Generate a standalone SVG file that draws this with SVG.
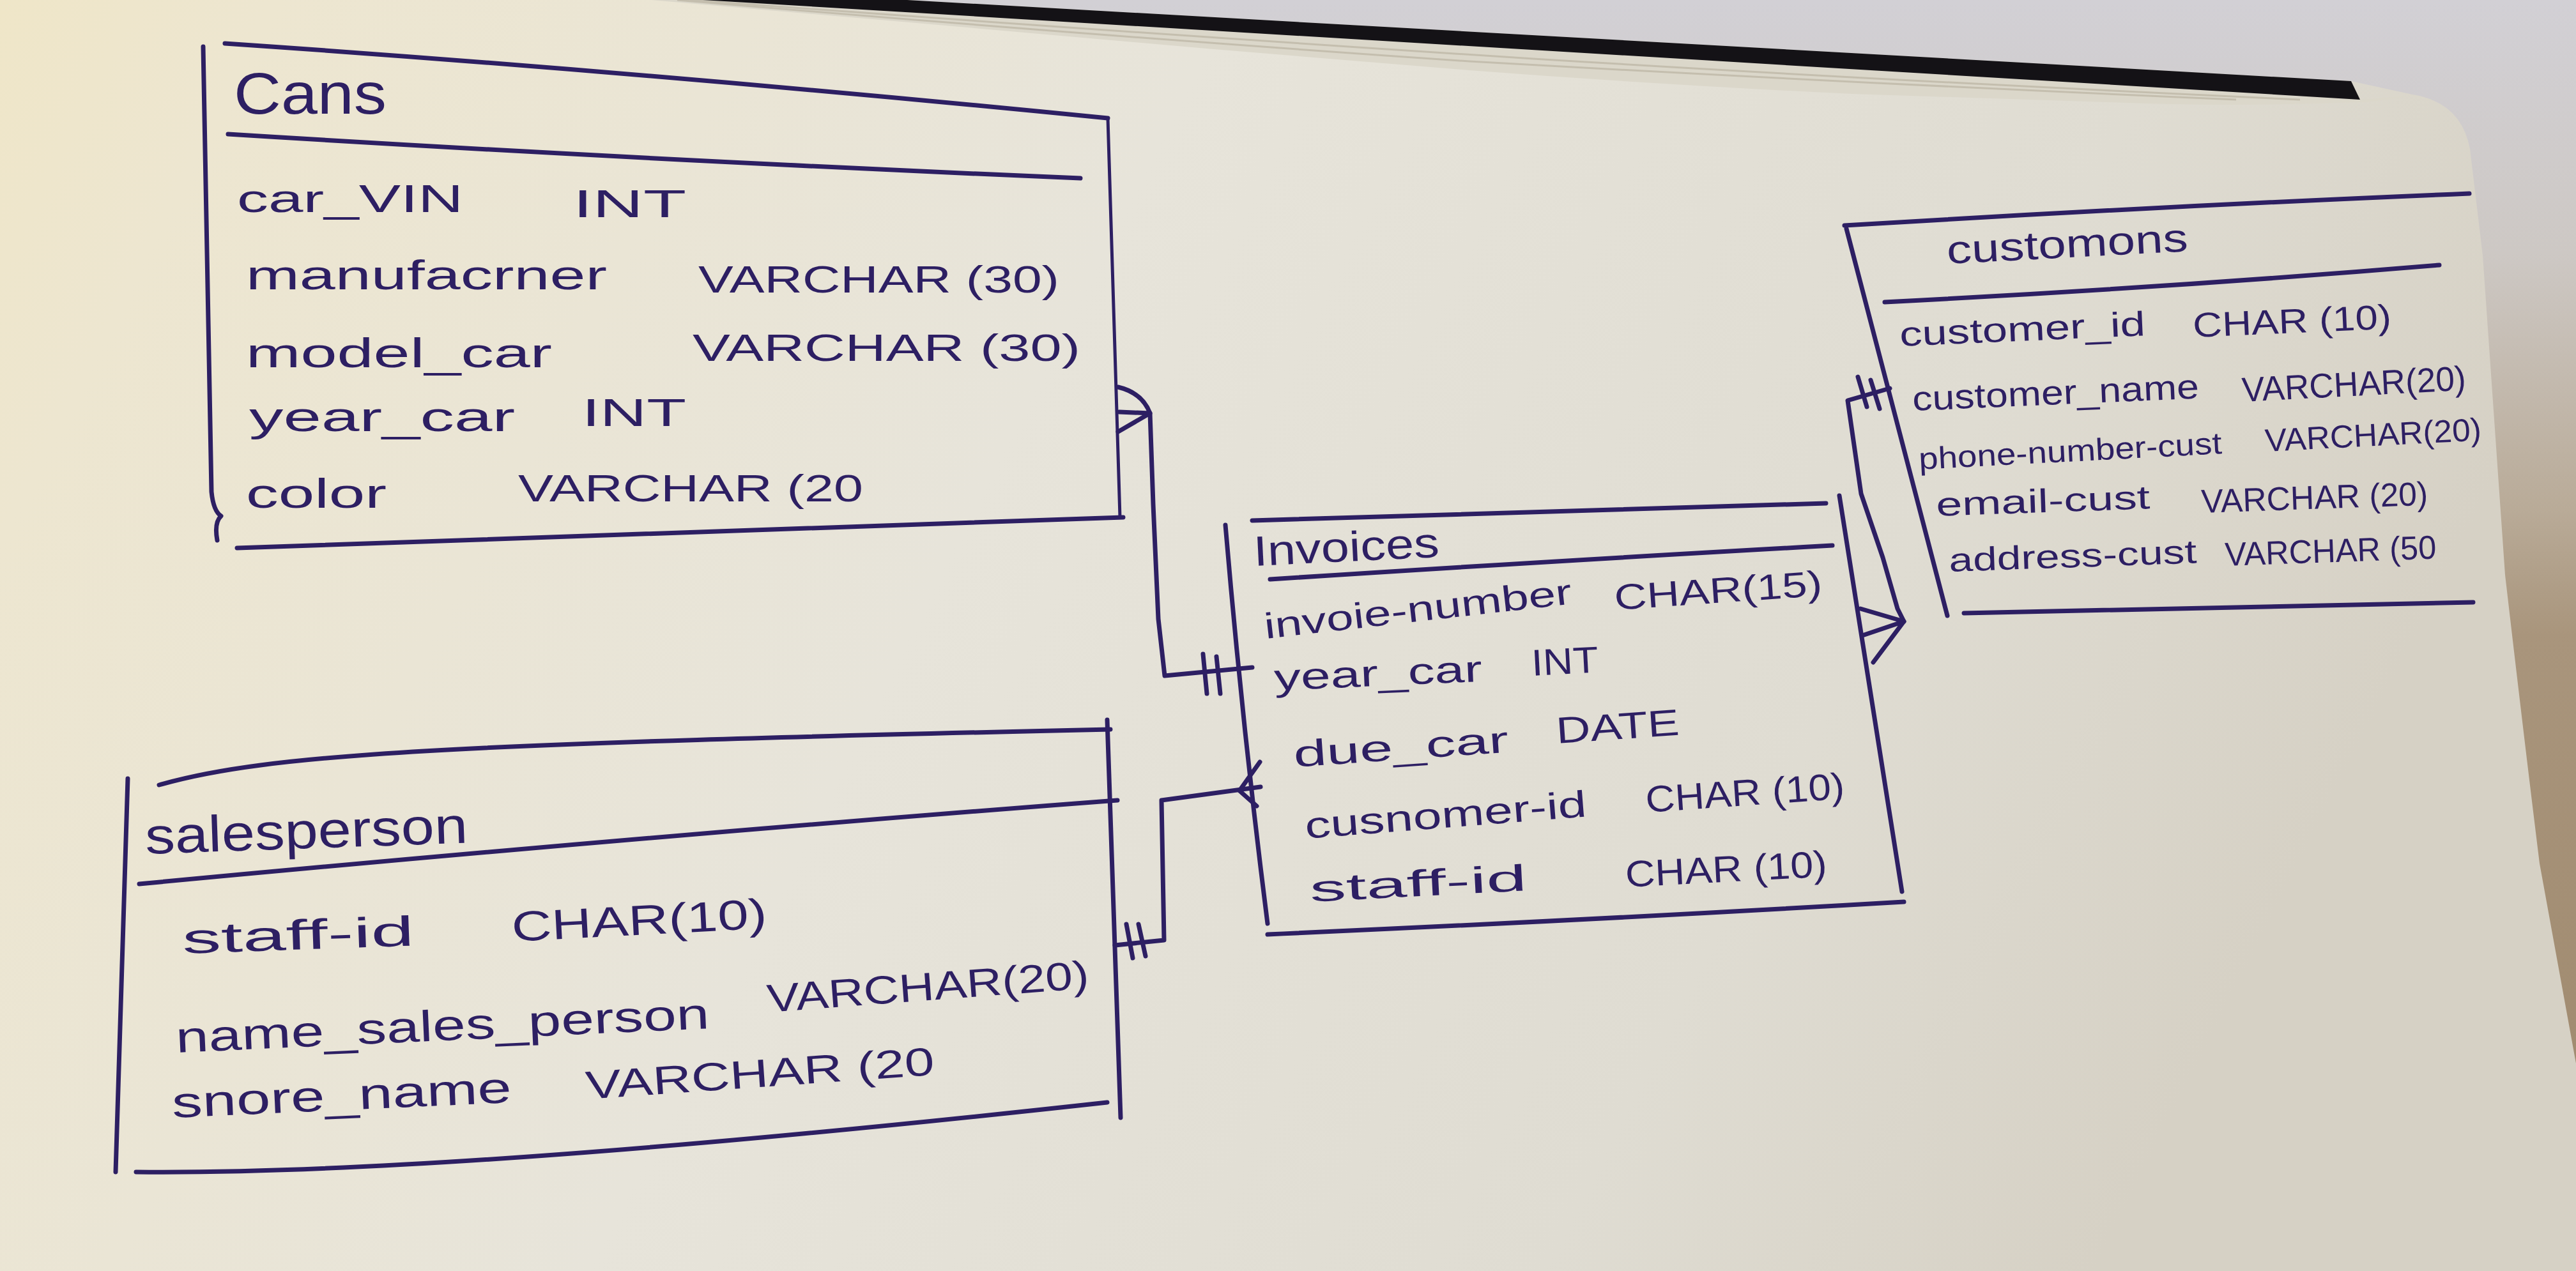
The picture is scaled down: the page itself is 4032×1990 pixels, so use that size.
<svg xmlns="http://www.w3.org/2000/svg" width="4032" height="1990" viewBox="0 0 4032 1990">
<defs>
<linearGradient id="bg" x1="0" y1="0" x2="0" y2="1">
<stop offset="0" stop-color="#d2d0d5"/>
<stop offset="0.2" stop-color="#cdc8c4"/>
<stop offset="0.4" stop-color="#b9ab98"/>
<stop offset="0.5" stop-color="#a9957c"/>
<stop offset="1" stop-color="#9d876b"/>
</linearGradient>
<linearGradient id="paper" x1="0" y1="0" x2="1" y2="0.25">
<stop offset="0" stop-color="#efe6c8"/>
<stop offset="0.1" stop-color="#ede6d0"/>
<stop offset="0.45" stop-color="#e7e4da"/>
<stop offset="0.8" stop-color="#dfdcd2"/>
<stop offset="1" stop-color="#d6d1c5"/>
</linearGradient>
<style>
.ink{fill:none;stroke:#2d1f63;stroke-width:7;stroke-linecap:round;stroke-linejoin:round}
.thin{stroke-width:5}
.stripe{fill:none;stroke:#c4beae;stroke-width:3}
text{font-family:"Liberation Sans",Arial,sans-serif;fill:#2d1f63}
</style>
</defs>
<rect width="4032" height="1990" fill="url(#bg)"/>
<path d="M0,0 L1420,0 L3680,127 L3776,148 Q3852,160 3866,233 L3886,400 L3921,900 Q3950,1150 3975,1352 L4032,1665 L4032,1990 L0,1990 Z" fill="url(#paper)"/>
<path d="M1020,0 L1100,0 L3694,156 L3776,150 Q3700,162 3686,160 Q3500,168 3300,160 L2900,147 Q2600,133 2300,110 L1900,77 L1400,33 Z" fill="#dbd7ca"/>
<path class="stripe" d="M1060,0 Q1700,55 2300,96 Q2900,130 3500,156"/>
<path class="stripe" d="M1080,0 Q1750,50 2400,92 Q2950,126 3600,156"/>
<path d="M1100,0 L1420,0 L3680,127 L3694,156 Z" fill="#141216"/>

<g id="cars">
<path class="ink" d="M352,68 Q1000,112 1734,185"/>
<path class="ink thin" d="M1734,185 L1753,810"/>
<path class="ink" d="M357,210 Q1000,250 1691,279"/>
<path class="ink" d="M371,858 Q1050,834 1758,810"/>
<path class="ink" d="M318,73 L331,770 Q334,800 346,808 Q335,818 340,846"/>
<text x="366" y="178" font-size="90" textLength="239" lengthAdjust="spacingAndGlyphs">Cans</text>
<text x="371" y="332" font-size="62" textLength="354" lengthAdjust="spacingAndGlyphs">car_VIN</text>
<text x="897" y="340" font-size="62" textLength="177" lengthAdjust="spacingAndGlyphs">INT</text>
<text x="385" y="453" font-size="64" textLength="565" lengthAdjust="spacingAndGlyphs">manufacrner</text>
<text x="1093" y="458" font-size="60" textLength="565" lengthAdjust="spacingAndGlyphs">VARCHAR (30)</text>
<text x="385" y="575" font-size="64" textLength="479" lengthAdjust="spacingAndGlyphs">model_car</text>
<text x="1084" y="565" font-size="60" textLength="607" lengthAdjust="spacingAndGlyphs">VARCHAR (30)</text>
<text x="390" y="675" font-size="64" textLength="416" lengthAdjust="spacingAndGlyphs">year_car</text>
<text x="911" y="667" font-size="62" textLength="163" lengthAdjust="spacingAndGlyphs">INT</text>
<text x="385" y="795" font-size="64" textLength="220" lengthAdjust="spacingAndGlyphs">color</text>
<text x="811" y="785" font-size="60" textLength="540" lengthAdjust="spacingAndGlyphs">VARCHAR (20</text>
</g>

<g id="customers">
<path class="ink" d="M2887,353 Q3400,322 3865,303"/>
<path class="ink" d="M2890,358 L3048,964"/>
<path class="ink" d="M2950,473 Q3400,450 3818,415"/>
<path class="ink" d="M3074,960 L3871,943"/>
<text x="3048" y="413" font-size="62" textLength="378" lengthAdjust="spacingAndGlyphs" transform="rotate(-3 3048 413)">customons</text>
<text x="2974" y="542" font-size="54" textLength="385" lengthAdjust="spacingAndGlyphs" transform="rotate(-2.5 2974 542)">customer_id</text>
<text x="3433" y="528" font-size="54" textLength="311" lengthAdjust="spacingAndGlyphs" transform="rotate(-2.5 3433 528)">CHAR (10)</text>
<text x="2994" y="643" font-size="54" textLength="449" lengthAdjust="spacingAndGlyphs" transform="rotate(-2.5 2994 643)">customer_name</text>
<text x="3510" y="629" font-size="54" textLength="351" lengthAdjust="spacingAndGlyphs" transform="rotate(-3 3510 629)">VARCHAR(20)</text>
<text x="3004" y="735" font-size="48" textLength="475" lengthAdjust="spacingAndGlyphs" transform="rotate(-3 3004 735)">phone-number-cust</text>
<text x="3546" y="707" font-size="50" textLength="339" lengthAdjust="spacingAndGlyphs" transform="rotate(-3 3546 707)">VARCHAR(20)</text>
<text x="3031" y="808" font-size="52" textLength="335" lengthAdjust="spacingAndGlyphs" transform="rotate(-2 3031 808)">email-cust</text>
<text x="3446" y="803" font-size="52" textLength="355" lengthAdjust="spacingAndGlyphs" transform="rotate(-2 3446 803)">VARCHAR (20)</text>
<text x="3051" y="895" font-size="52" textLength="388" lengthAdjust="spacingAndGlyphs" transform="rotate(-2 3051 895)">address-cust</text>
<text x="3483" y="886" font-size="52" textLength="331" lengthAdjust="spacingAndGlyphs" transform="rotate(-2 3483 886)">VARCHAR (50</text>
</g>

<g id="invoices">
<path class="ink" d="M1960,815 L2858,788"/>
<path class="ink" d="M1918,822 Q1945,1140 1984,1446"/>
<path class="ink" d="M1988,907 Q2400,880 2868,854"/>
<path class="ink" d="M2879,776 L2977,1396"/>
<path class="ink" d="M1984,1463 Q2500,1440 2980,1412"/>
<text x="1963" y="886" font-size="66" textLength="291" lengthAdjust="spacingAndGlyphs" transform="rotate(-2.8 1963 886)">Invoices</text>
<text x="1981" y="1000" font-size="56" textLength="484" lengthAdjust="spacingAndGlyphs" transform="rotate(-6.5 1981 1000)">invoie-number</text>
<text x="2528" y="955" font-size="56" textLength="326" lengthAdjust="spacingAndGlyphs" transform="rotate(-4 2528 955)">CHAR(15)</text>
<text x="1995" y="1081" font-size="58" textLength="326" lengthAdjust="spacingAndGlyphs" transform="rotate(-2.5 1995 1081)">year_car</text>
<text x="2398" y="1058" font-size="58" textLength="105" lengthAdjust="spacingAndGlyphs" transform="rotate(-3 2398 1058)">INT</text>
<text x="2026" y="1201" font-size="58" textLength="337" lengthAdjust="spacingAndGlyphs" transform="rotate(-4 2026 1201)">due_car</text>
<text x="2437" y="1164" font-size="58" textLength="193" lengthAdjust="spacingAndGlyphs" transform="rotate(-4 2437 1164)">DATE</text>
<text x="2044" y="1313" font-size="58" textLength="442" lengthAdjust="spacingAndGlyphs" transform="rotate(-4.5 2044 1313)">cusnomer-id</text>
<text x="2577" y="1272" font-size="58" textLength="312" lengthAdjust="spacingAndGlyphs" transform="rotate(-4 2577 1272)">CHAR (10)</text>
<text x="2051" y="1412" font-size="58" textLength="340" lengthAdjust="spacingAndGlyphs" transform="rotate(-3 2051 1412)">staff-id</text>
<text x="2545" y="1389" font-size="58" textLength="316" lengthAdjust="spacingAndGlyphs" transform="rotate(-3 2545 1389)">CHAR (10)</text>
</g>

<g id="salesperson">
<path class="ink" d="M249,1229 C420,1180 700,1165 1738,1142"/>
<path class="ink" d="M200,1219 L181,1835"/>
<path class="ink" d="M218,1384 Q1000,1310 1749,1253"/>
<path class="ink" d="M1733,1127 L1754,1750"/>
<path class="ink" d="M213,1835 Q700,1840 1733,1726"/>
<text x="228" y="1337" font-size="80" textLength="505" lengthAdjust="spacingAndGlyphs" transform="rotate(-2 228 1337)">salesperson</text>
<text x="286" y="1493" font-size="66" textLength="363" lengthAdjust="spacingAndGlyphs" transform="rotate(-2 286 1493)">staff-id</text>
<text x="802" y="1474" font-size="66" textLength="400" lengthAdjust="spacingAndGlyphs" transform="rotate(-3 802 1474)">CHAR(10)</text>
<text x="276" y="1648" font-size="68" textLength="836" lengthAdjust="spacingAndGlyphs" transform="rotate(-2.6 276 1648)">name_sales_person</text>
<text x="1202" y="1585" font-size="62" textLength="505" lengthAdjust="spacingAndGlyphs" transform="rotate(-4.3 1202 1585)">VARCHAR(20)</text>
<text x="270" y="1750" font-size="68" textLength="532" lengthAdjust="spacingAndGlyphs" transform="rotate(-2.6 270 1750)">snore_name</text>
<text x="918" y="1721" font-size="62" textLength="547" lengthAdjust="spacingAndGlyphs" transform="rotate(-4 918 1721)">VARCHAR (20</text>
</g>

<g id="connectors">
<path class="ink" d="M1800,647 L1805,790 L1813,969 L1823,1058 L1960,1045"/>
<path class="ink" d="M1750,606 Q1788,615 1800,647 M1752,645 L1800,647 M1750,676 L1800,647"/>
<path class="ink" d="M1883,1024 L1889,1086 M1904,1028 L1910,1086"/>
<path class="ink" d="M1745,1480 L1822,1472 L1818,1253 L1973,1232"/>
<path class="ink" d="M1763,1447 L1773,1500 M1782,1447 L1793,1497"/>
<path class="ink" d="M1972,1193 L1940,1238 L1967,1262"/>
<path class="ink" d="M2958,608 L2892,627 L2913,773 L2947,873 L2970,953 L2980,973"/>
<path class="ink" d="M2908,590 L2922,637 M2928,595 L2942,640"/>
<path class="ink" d="M2912,953 L2980,973 M2915,995 L2980,973 M2932,1037 L2980,973"/>
</g>
</svg>
